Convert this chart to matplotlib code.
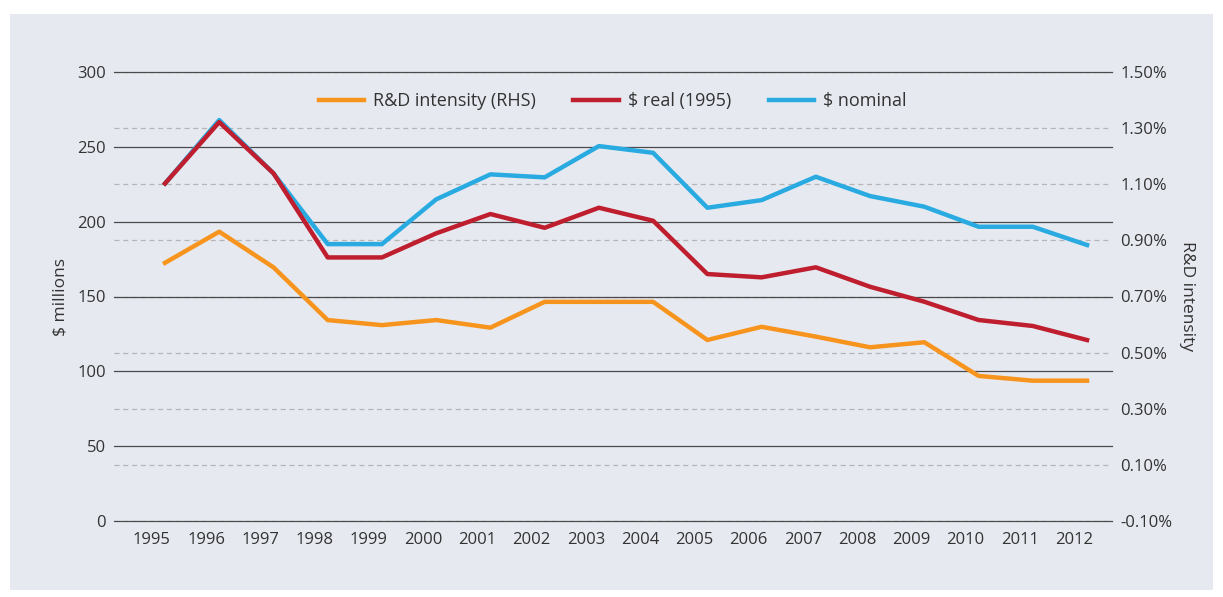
import numpy as np
import matplotlib
matplotlib.use("Agg")
import matplotlib.pyplot as plt
from matplotlib.patches import Rectangle
from matplotlib.ticker import FuncFormatter

plt.rcParams['font.family'] = ['Open Sans', 'DejaVu Sans']

years = np.arange(1995, 2013)
rd_intensity = [0.820, 0.931, 0.804, 0.616, 0.598, 0.616, 0.589, 0.681, 0.681,
                0.681, 0.545, 0.592, 0.557, 0.519, 0.537, 0.417, 0.400, 0.400]   # % (RHS)
real_1995 = [225.5, 266.5, 232.3, 176.1, 176.1, 192.2, 205.1, 195.9, 209.3,
             200.6, 165.0, 162.8, 169.5, 156.5, 146.5, 134.3, 130.3, 120.9]
nominal = [225.5, 267.9, 232.3, 185.0, 185.0, 214.9, 231.6, 229.6, 250.5,
           246.0, 209.3, 214.4, 230.0, 217.1, 210.0, 196.6, 196.6, 184.4]

left_ticks = np.arange(0, 301, 50)
right_ticks = np.round(np.arange(-0.1, 1.51, 0.2), 2)

c_orange = '#f7941d'
c_red = '#be1e2d'
c_blue = '#29abe2'
txt = '#333333'

fig = plt.figure(figsize=(12.23, 5.97), dpi=100)
fig.patches.append(Rectangle((10/1223, 7/597), 1203/1223, 576/597,
                             transform=fig.transFigure, facecolor='#e7e9f1',
                             edgecolor='none', zorder=-10))

ax1 = fig.add_axes([114/1223, 1 - 521/597, 998/1223, 449/597])
ax2 = ax1.twinx()
ax1.set_zorder(2)
ax2.set_zorder(1)
ax1.patch.set_visible(False)
ax2.patch.set_visible(False)

ax1.set_xlim(1994.06, 2012.46)
ax1.set_ylim(0, 300)
ax2.set_ylim(-0.1, 1.5)

ax1.set_yticks(left_ticks)
ax2.set_yticks(right_ticks)
ax2.yaxis.set_major_formatter(FuncFormatter(lambda v, p: f"{v:.2f}%"))
# category labels sit a little left of the plotted points, as in the original
ax1.set_xticks(years - 0.24)
ax1.set_xticklabels([str(y) for y in years])

ax1.set_axisbelow(True)
ax1.grid(axis='y', color='#4a4a4a', linewidth=0.9)
ax1.grid(axis='x', visible=False)
ax2.grid(axis='y', color='#b5b5b5', linewidth=0.9, linestyle=(0, (4, 3)))
for gl in ax1.get_ygridlines():
    gl.set_clip_on(False)

for ax in (ax1, ax2):
    for s in ax.spines.values():
        s.set_visible(False)
    ax.tick_params(length=0, labelsize=12, colors=txt)
ax1.tick_params(axis='y', pad=6)
ax2.tick_params(axis='y', pad=6)
ax1.tick_params(axis='x', pad=8)

l1, = ax1.plot(years, rd_intensity, color=c_orange, lw=3.2, transform=ax2.transData,
               label='R&D intensity (RHS)', zorder=3)
l3, = ax1.plot(years, nominal, color=c_blue, lw=3.2, label='$ nominal', zorder=4)
l2, = ax1.plot(years, real_1995, color=c_red, lw=3.2, label='$ real (1995)', zorder=5)

ax1.set_ylabel('$ millions', fontsize=12.5, color=txt, labelpad=6)
ax2.set_ylabel('R&D intensity', fontsize=12.5, color=txt, rotation=270, labelpad=16)

ax1.legend(handles=[l1, l2, l3], loc='center', bbox_to_anchor=(0.4995, 0.935),
           ncol=3, frameon=False, fontsize=13, handlelength=2.5, handletextpad=0.5,
           columnspacing=2.1, labelcolor=txt)

fig.savefig('out.png', dpi=100, facecolor='white')
